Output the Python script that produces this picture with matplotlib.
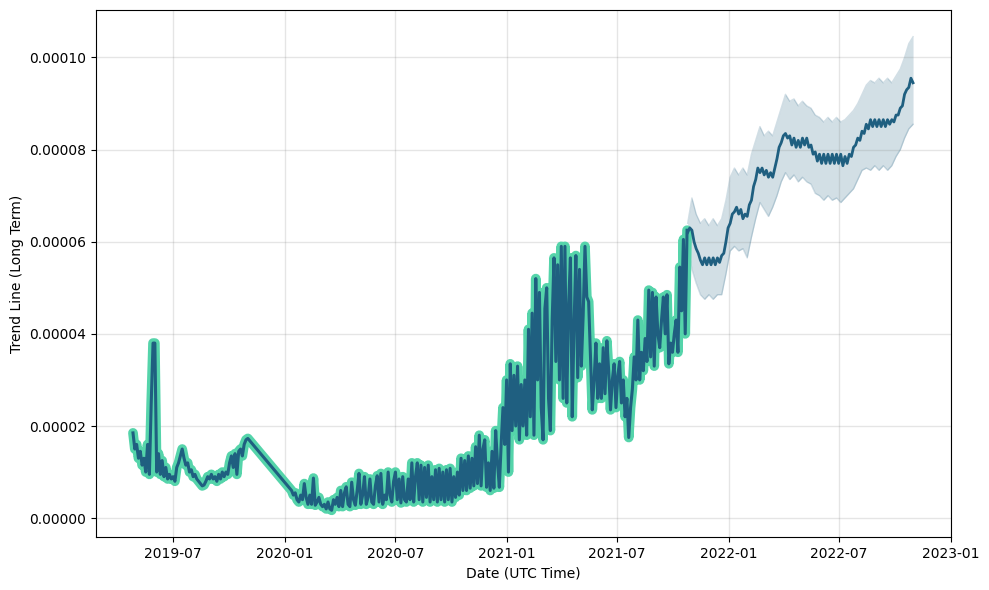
import matplotlib
matplotlib.use("Agg")
import matplotlib.pyplot as plt
import matplotlib.dates as mdates
from matplotlib.ticker import FormatStrFormatter
import numpy as np
import pandas as pd

# history, part 1 (values in 1e-5, every 3 days)
hist1_start = "2019-04-26"
hist1 = [1.85, 1.5, 1.6, 1.3, 1.45, 1.15, 1.3, 1.0, 1.6, 0.95, 2.5, 3.8, 3.8, 1.0,
         1.4, 0.95, 1.25, 0.9, 1.1, 0.85, 0.95, 0.85, 0.9, 0.8, 1.1, 1.2, 1.35, 1.5,
         1.3, 1.15, 1.2, 1.0, 1.05, 0.9, 0.95, 0.85, 0.8, 0.75, 0.7, 0.72, 0.8, 0.9,
         0.85, 0.95, 0.85, 0.9, 0.8, 0.95, 0.85, 1.0, 0.9, 1.0, 0.95, 1.2, 1.35, 1.1,
         1.4, 0.95, 1.45, 1.5, 1.35, 1.6, 1.7, 1.73]

# history, part 2 (values in 1e-5, every 3 days)
hist2_start = "2020-01-12"
hist2 = [0.6, 0.5, 0.55, 0.4, 0.35, 0.5, 0.4, 0.75, 0.45, 0.3, 0.5, 0.3, 0.87, 0.28,
         0.35, 0.45, 0.3, 0.25, 0.3, 0.2, 0.35, 0.2, 0.17, 0.4, 0.3, 0.45, 0.25, 0.6,
         0.25, 0.55, 0.68, 0.3, 0.25, 0.78, 0.4, 0.28, 0.6, 0.97, 0.3, 0.5, 0.9, 0.3,
         0.45, 0.85, 0.35, 0.3, 0.7, 0.92, 0.35, 0.97, 0.3, 0.5, 0.4, 1.0, 0.5, 0.35,
         0.8, 1.0, 0.4, 0.85, 0.33, 0.9, 0.4, 0.35, 0.85, 0.4, 1.2, 0.35, 0.9, 1.2,
         0.4, 1.15, 0.35, 1.1, 0.45, 1.15, 0.35, 0.9, 0.4, 1.05, 0.35, 1.08, 0.4, 1.0,
         0.35, 1.05, 0.4, 1.08, 0.35, 0.9, 0.45, 1.0, 0.5, 1.3, 0.6, 1.25, 0.6, 1.35,
         0.65, 1.3, 0.7, 1.55, 0.75, 1.8, 0.7, 1.5, 1.7, 0.67, 1.2, 0.6, 1.45, 0.65,
         1.9, 1.2, 0.67, 1.6, 2.4, 1.6, 3.0, 1.0, 3.35, 1.9, 3.1, 2.0, 3.3, 1.7,
         2.9, 2.0, 3.0, 1.8, 4.1, 2.2, 4.45, 1.8, 5.2, 3.0, 4.9, 2.4, 1.7, 4.55,
         5.0, 2.6, 1.9, 4.3, 5.65, 3.4, 5.5, 3.0, 5.9, 2.6, 5.9, 2.5, 4.6, 5.65,
         2.2, 4.2, 5.7, 3.05, 5.4, 3.3, 4.4, 5.9, 4.8, 4.7, 3.5, 2.35, 3.0, 3.8,
         2.6, 3.35, 2.6, 3.7, 2.7, 3.85, 3.2, 2.35, 3.0, 3.35, 2.4, 3.1, 3.4, 2.5,
         3.0, 2.2, 2.6, 1.75, 2.4, 2.8, 3.5, 3.0, 4.3, 3.0, 3.6, 3.2, 3.9, 3.4,
         4.95, 3.5, 4.9, 3.3, 4.8, 4.0, 3.7, 4.3, 4.8, 4.0, 4.85, 3.35, 3.8, 3.6,
         4.0, 4.3, 3.6, 5.45, 4.5, 6.05, 4.0, 6.25]

# forecast trend (values in 1e-5, every half week)
fc_start = "2021-10-25"
fc_mean = [6.2, 6.3, 6.25, 6.0, 5.85, 5.75, 5.6, 5.5, 5.65, 5.5, 5.65, 5.5, 5.65, 5.5,
           5.65, 5.55, 5.7, 5.75, 6.0, 6.3, 6.4, 6.6, 6.65, 6.75, 6.6, 6.7, 6.5, 6.6,
           6.55, 6.8, 6.9, 7.2, 7.35, 7.6, 7.5, 7.6, 7.45, 7.55, 7.4, 7.5, 7.4, 7.6,
           7.8, 8.05, 8.15, 8.3, 8.35, 8.25, 8.3, 8.1, 8.25, 8.05, 8.2, 8.05, 8.25, 8.1,
           8.25, 8.05, 8.1, 7.9, 7.95, 7.75, 7.9, 7.7, 7.9, 7.7, 7.9, 7.7, 7.9, 7.7,
           7.9, 7.7, 7.9, 7.65, 7.85, 7.7, 7.9, 7.85, 8.05, 8.1, 8.25, 8.2, 8.4, 8.35,
           8.55, 8.45, 8.65, 8.5, 8.65, 8.5, 8.65, 8.5, 8.65, 8.5, 8.65, 8.55, 8.65, 8.6,
           8.75, 8.75, 8.9, 8.95, 9.2, 9.3, 9.35, 9.55, 9.45]

# uncertainty interval (values in 1e-5, weekly)
fc_upper = [6.4, 6.95, 6.6, 6.4, 6.5, 6.35, 6.5, 6.35, 6.5, 6.9, 7.4, 7.6, 7.45, 7.6,
            7.45, 7.9, 8.2, 8.5, 8.3, 8.4, 8.3, 8.6, 8.9, 9.2, 9.05, 9.1, 8.95, 9.05,
            8.95, 8.9, 8.75, 8.7, 8.6, 8.7, 8.6, 8.7, 8.6, 8.65, 8.75, 8.85, 9.0, 9.2,
            9.4, 9.5, 9.45, 9.55, 9.45, 9.55, 9.45, 9.6, 9.75, 10.0, 10.3, 10.45]
fc_lower = [5.95, 5.4, 5.1, 4.85, 4.75, 4.85, 4.75, 4.85, 4.85, 5.3, 5.8, 5.9, 5.8, 5.85,
            5.65, 6.1, 6.5, 6.85, 6.7, 6.55, 6.75, 7.0, 7.3, 7.5, 7.35, 7.45, 7.3, 7.4,
            7.3, 7.25, 7.05, 7.0, 6.9, 7.0, 6.9, 6.95, 6.85, 6.95, 7.05, 7.15, 7.35, 7.55,
            7.6, 7.55, 7.65, 7.55, 7.65, 7.55, 7.65, 7.85, 8.0, 8.25, 8.45, 8.55]

scale = 1e-5
d1 = pd.date_range(hist1_start, periods=len(hist1), freq="3D")
d2 = pd.date_range(hist2_start, periods=len(hist2), freq="3D")
hist_dates = d1.append(d2)
hist_vals = np.array(hist1 + hist2) * scale

fc_dates = pd.date_range(fc_start, periods=len(fc_mean), freq="84h")
band_dates = pd.date_range(fc_start, periods=len(fc_upper), freq="7D")
up = np.array(fc_upper) * scale
lo = np.array(fc_lower) * scale

green = "#55d4aa"
blue = "#1f5f80"

fig, ax = plt.subplots(figsize=(9.89, 5.9), dpi=100)

ax.fill_between(band_dates, lo, up, color=blue, alpha=0.2, linewidth=0)
ax.plot(band_dates, up, color=blue, alpha=0.2, linewidth=1)
ax.plot(band_dates, lo, color=blue, alpha=0.2, linewidth=1)

ax.plot(hist_dates, hist_vals, color=green, linewidth=7, solid_capstyle="round",
        solid_joinstyle="round")
ax.plot(hist_dates, hist_vals, color=blue, linewidth=2.2)
ax.plot(fc_dates, np.array(fc_mean) * scale, color=blue, linewidth=2)

ax.set_xlim(pd.Timestamp("2019-02-24"), pd.Timestamp("2023-01-01 12:00"))
ax.set_ylim(-4.1e-6, 1.103e-4)
ax.yaxis.set_major_formatter(FormatStrFormatter("%.5f"))
ax.xaxis.set_major_locator(mdates.MonthLocator(bymonth=[1, 7]))
ax.xaxis.set_major_formatter(mdates.DateFormatter("%Y-%m"))

ax.grid(True, color="gray", alpha=0.2, linewidth=1)
ax.set_xlabel("Date (UTC Time)")
ax.set_ylabel("Trend Line (Long Term)")

plt.subplots_adjust(left=0.097, right=0.9616, top=0.983, bottom=0.0898)
plt.savefig("out.png")
